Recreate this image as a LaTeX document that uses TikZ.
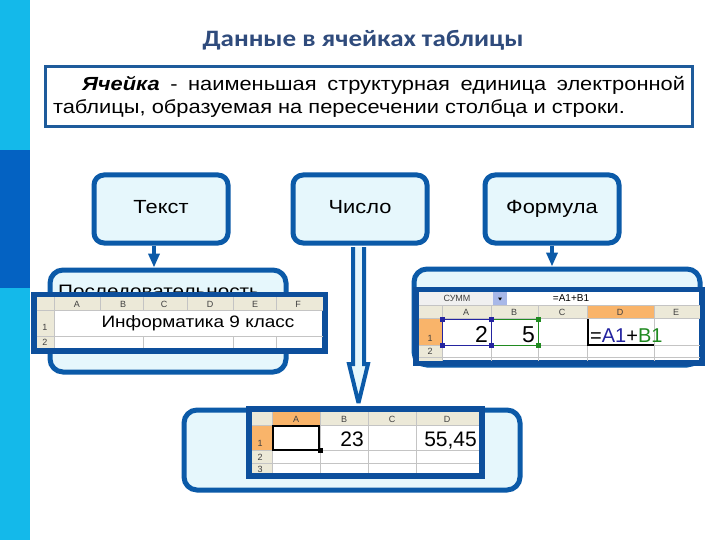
\documentclass[tikz,border=0pt]{standalone}
\usepackage{fontspec}
\setmainfont[FakeStretch=1.15]{Liberation Sans}
\newfontfamily\titlefont[FakeStretch=1.15]{Carlito}
\newfontfamily\sheetfont{Liberation Sans}
\usetikzlibrary{calc,arrows.meta}
\definecolor{stripc}{HTML}{14B9EA}
\definecolor{stripd}{HTML}{0462C2}
\definecolor{titlec}{HTML}{2F4B7C}
\definecolor{defb}{HTML}{1E5B9B}
\definecolor{bdr}{HTML}{0B5AA8}
\definecolor{sbdr}{HTML}{0D4F9C}
\definecolor{boxfill}{HTML}{E6F7FC}
\definecolor{hdr}{HTML}{ECE9D8}
\definecolor{grid}{HTML}{C4C4C4}
\definecolor{orng}{HTML}{F9B46A}
\definecolor{hdrtxt}{HTML}{404040}
\definecolor{selblue}{HTML}{2424A0}
\definecolor{selgreen}{HTML}{208A20}
\definecolor{dropc}{HTML}{A8B8E8}
\definecolor{namebox}{HTML}{F0F0F0}
\tikzset{
  catbox/.style={draw=bdr, line width=5pt, rounded corners=10pt, fill=boxfill,
    minimum width=134pt, minimum height=68pt, inner sep=0pt,
    text height=13.5pt, text depth=4pt,
    font=\fontsize{19}{22}\selectfont},
  bigbox/.style={draw=bdr, line width=5pt, rounded corners=13pt, fill=boxfill, inner sep=0pt},
  sheetborder/.style={draw=sbdr, line width=5.5pt, fill=white},
  gridline/.style={draw=grid, line width=0.8pt},
  hdrlbl/.style={font=\sheetfont\fontsize{9}{10}\selectfont, text=hdrtxt, inner sep=0pt},
  arr/.style={draw=bdr, line width=4pt, -{Triangle[length=14pt,width=11pt]}},
  hollowarr/.style={draw=bdr, line width=4pt, fill=boxfill, line join=miter, miter limit=3}
}
\begin{document}
\begin{tikzpicture}[x=1pt,y=-1pt]
\useasboundingbox (0,0) rectangle (720,540);
\fill[white] (0,0) rectangle (720,540);
% left strip
\fill[stripc] (0,0) rectangle (30,540);
\fill[stripd] (0,150) rectangle (30,288);
% title
\node[font=\titlefont\bfseries\fontsize{23.5}{27}\selectfont, text=titlec] (title) at (363,40) {Данные в ячейках таблицы};
% definition
\node[draw=defb, line width=3pt, fill=white, text width=632pt, align=justify,
  inner xsep=4pt, inner ysep=0pt, minimum width=647pt, minimum height=60pt,
  font=\fontsize{19}{23}\selectfont] (def) at (369,97)
  {\hspace*{29pt}\textbf{\textit{Ячейка}} - наименьшая структурная единица электронной таблицы, образуемая на пересечении столбца и строки.};
% category boxes
\node[catbox] (tekst) at (161,209) {Текст};
\node[catbox] (chislo) at (360,209) {Число};
\node[catbox] (formula) at (552,209) {Формула};
% big boxes
\node[bigbox, minimum width=236pt, minimum height=102pt] (boxL) at (168,321) {};
\node[bigbox, minimum width=286pt, minimum height=96pt] (boxR) at (557,317) {};
\node[bigbox, minimum width=336pt, minimum height=80pt] (boxM) at (352,450) {};
\node[anchor=base west, inner sep=0pt, font=\fontsize{18}{22}\selectfont] (hidL) at (58,297) {Последовательность};
% arrows
\coordinate (ta) at ($(tekst.south)+(-7,0)$);
\draw[arr] (ta) -- (ta |- boxL.north);
\draw[arr] (formula.south) -- (formula.south |- boxR.north);

% ---------- spreadsheet 1 ----------
\draw[sheetborder] (34,294.5) rectangle (325,351);
\fill[hdr] (36.5,297) rectangle (322.5,310);
\fill[hdr] (36.5,297) rectangle (54,348);
\draw[gridline] (36.5,310) -- (322.5,310);
\draw[gridline] (36.5,336) -- (322.5,336);
\draw[gridline] (54,297) -- (54,348);
\foreach \xx in {100,187} \draw[gridline] (\xx,297) -- (\xx,310);
\foreach \xx in {143,233,276} {\draw[gridline] (\xx,297) -- (\xx,310); \draw[gridline] (\xx,336) -- (\xx,348);}
\foreach \xx/\ll in {77/A,123/B,164/C,210/D,255/E,298/F} \node[hdrlbl] at (\xx,304) {\ll};
\node[hdrlbl] at (45,327) {1};
\node[hdrlbl] at (45,342.5) {2};
\node[font=\fontsize{16.5}{20}\selectfont, inner sep=0pt] (t1) at (198,323) {Информатика 9 класс};

% ---------- spreadsheet 2 ----------
\draw[sheetborder] (416,289.5) rectangle (702,363);
\fill[namebox] (418.5,292) rectangle (493,305);
\fill[dropc] (493,292) rectangle (507,305);
\fill[black] (498,297.5) -- (502,297.5) -- (500,300.5) -- cycle;
\node[hdrlbl] at (457,298.5) {СУММ};
\node[hdrlbl, font=\sheetfont\fontsize{10}{11}\selectfont, text=black] at (571,298.5) {=A1+B1};
\draw[gridline] (418.5,305.5) -- (699.5,305.5);
\fill[hdr] (418.5,306) rectangle (699.5,318);
\fill[hdr] (418.5,306) rectangle (442,360.5);
\fill[orng] (587,306) rectangle (654,318);
\fill[orng] (418.5,318) rectangle (442,345);
\draw[gridline] (418.5,318) -- (699.5,318);
\draw[gridline] (418.5,345) -- (699.5,345);
\draw[gridline] (418.5,357) -- (699.5,357);
\foreach \xx in {442,491,538,587,654} \draw[gridline] (\xx,306) -- (\xx,360.5);
\foreach \xx/\ll in {466/A,514/B,562/C,620/D,676/E} \node[hdrlbl] at (\xx,312.5) {\ll};
\node[hdrlbl] at (430,338) {1};
\node[hdrlbl] at (430,351.5) {2};
\draw[selgreen, line width=1pt] (491,319) rectangle (538,345);
\draw[selblue, line width=1pt] (442,319) rectangle (491,345);
\foreach \p in {(442,319),(491,319),(442,345),(491,345)} \fill[selblue] \p +(-2.5,-2.5) rectangle +(2.5,2.5);
\foreach \p in {(538,319),(538,345)} \fill[selgreen] \p +(-2.5,-2.5) rectangle +(2.5,2.5);
\node[anchor=base east, inner sep=0pt, font=\sheetfont\fontsize{23}{26}\selectfont] at (488,342) {2};
\node[anchor=base east, inner sep=0pt, font=\sheetfont\fontsize{23}{26}\selectfont] at (535,342) {5};
\draw[black, line width=2pt] (588,319) -- (588,345) -- (654,345);
\node[anchor=base west, inner sep=0pt, font=\sheetfont\fontsize{20}{24}\selectfont] (fm) at (590,342)
  {=\textcolor{selblue}{A1}+\textcolor{selgreen}{B1}};

% ---------- spreadsheet 3 ----------
\draw[sheetborder] (249,409) rectangle (482,476);
\fill[hdr] (252,412) rectangle (479,425);
\fill[hdr] (252,412) rectangle (272,473);
\fill[orng] (272,412) rectangle (320,425);
\fill[orng] (252,425) rectangle (272,450);
\draw[gridline] (252,425) -- (479,425);
\draw[gridline] (252,450) -- (479,450);
\draw[gridline] (252,463) -- (479,463);
\foreach \xx in {272,320,368,416} \draw[gridline] (\xx,412) -- (\xx,473);
\foreach \xx/\ll in {296/A,344/B,392/C,447/D} \node[hdrlbl] at (\xx,419) {\ll};
\node[hdrlbl] at (260,443) {1};
\node[hdrlbl] at (260,457) {2};
\node[hdrlbl] at (260,469) {3};
\draw[black, line width=2pt] (273,426) rectangle (319,450);
\fill[black] (317.5,447.5) rectangle (322.5,452.5);
\node[anchor=base east, inner sep=0pt, font=\sheetfont\fontsize{21}{24}\selectfont] at (364,446) {23};
\node[anchor=base east, inner sep=0pt, font=\sheetfont\fontsize{21}{24}\selectfont] at (477,446) {55,45};

% hollow arrow from Число
\draw[hollowarr] (353,247) -- (353,364) -- (349,364) -- (358.5,403) -- (368,364) -- (364,364) -- (364,247);
\end{tikzpicture}
\end{document}
